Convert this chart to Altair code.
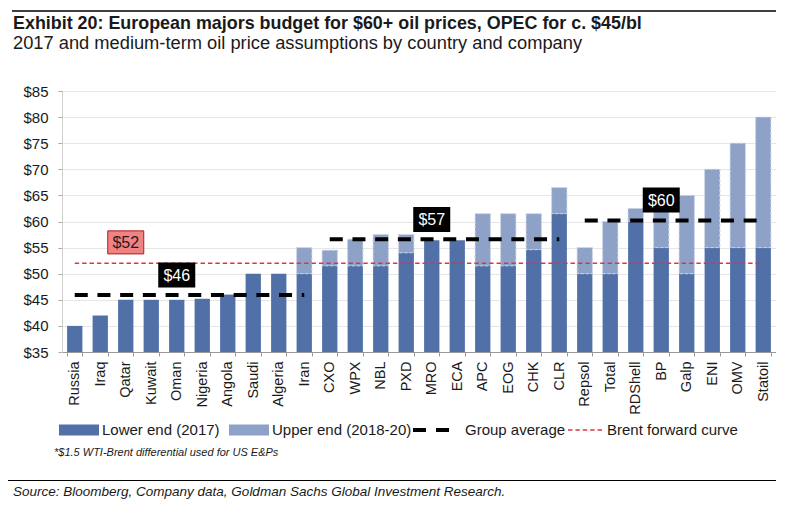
import altair as alt
import pandas as pd

# ---------------- data ----------------
categories = ["Russia", "Iraq", "Qatar", "Kuwait", "Oman", "Nigeria", "Angola", "Saudi",
              "Algeria", "Iran", "CXO", "WPX", "NBL", "PXD", "MRO", "ECA", "APC", "EOG",
              "CHK", "CLR", "Repsol", "Total", "RDShell", "BP", "Galp", "ENI", "OMV", "Statoil"]
lower_2017 = [40, 42, 45, 45, 45, 45.2, 46, 50, 50, 50, 51.5, 51.5, 51.5, 54, 56.4, 56.4,
              51.5, 51.5, 54.6, 61.5, 50, 50, 60, 55, 50, 55, 55, 55]
upper_2018_20 = [40, 42, 45, 45, 45, 45.2, 46, 50, 50, 55, 54.5, 56.6, 57.5, 57.5, 56.4, 56.4,
                 61.5, 61.5, 61.5, 66.5, 55, 60, 62.5, 62.5, 65, 70, 75, 80]

group_first = ["Russia", "CXO", "Repsol"]
group_last = ["Iran", "CLR", "Statoil"]
group_avg = [45.9, 56.6, 60.2]
group_label_text = ["$46", "$57", "$60"]
group_label_cat = ["Oman", "MRO", "BP"]
group_label_y = [49.75, 60.4, 64.1]

brent_first = ["Russia"]
brent_last = ["Statoil"]
brent_value = [52]
brent_label_text = ["$52"]
brent_label_cat = ["Qatar"]
brent_label_y = [56.0]

y_ticks = [35, 40, 45, 50, 55, 60, 65, 70, 75, 80, 85]

LOW = "Lower end (2017)"
UP = "Upper end (2018-20)"
GA = "Group average"
BR = "Brent forward curve"

title_text = "Exhibit 20: European majors budget for $60+ oil prices, OPEC for c. $45/bl"
subtitle_text = "2017 and medium-term oil price assumptions by country and company"
footnote_text = "*$1.5 WTI-Brent differential used for US E&Ps"
source_text = "Source: Bloomberg, Company data, Goldman Sachs Global Investment Research."

# ---------------- tables ----------------
rows = []
for c, lo, hi in zip(categories, lower_2017, upper_2018_20):
    rows.append({"cat": c, "series": LOW, "y0": y_ticks[0], "y1": lo})
    if hi > lo:
        rows.append({"cat": c, "series": UP, "y0": lo, "y1": hi})
bars_df = pd.DataFrame(rows)

groups_df = pd.DataFrame({"first": group_first, "last": group_last, "v": group_avg, "name": [GA] * 3})
glabels_df = pd.DataFrame({"cat": group_label_cat, "y": group_label_y, "t": group_label_text})
brent_df = pd.DataFrame({"first": brent_first, "last": brent_last, "v": brent_value, "name": [BR]})
blabel_df = pd.DataFrame({"cat": brent_label_cat, "y": brent_label_y, "t": brent_label_text})

FONT = "Liberation Sans"
C_LOW = "#5270a8"
C_UP = "#8ea2c8"
C_RED = "#d9363e"
TXT = "#1a1a1a"

x_scale = alt.Scale(domain=categories, paddingInner=0.4, paddingOuter=0.2)
y_scale = alt.Scale(domain=[35, 85], nice=False, zero=False)

x_axis = alt.Axis(labelAngle=-90, labelFont=FONT, labelFontSize=14.5, labelColor=TXT,
                  labelPadding=5, tickBand="extent", tickSize=4, tickColor="#999999",
                  domainColor="#999999", grid=False, title=None)
y_axis = alt.Axis(values=y_ticks, labelExpr="'$' + datum.value", labelFont=FONT,
                  labelFontSize=15, labelColor=TXT, labelPadding=10, tickSize=4,
                  tickColor="#aaaaaa", domainColor="#cfcfcf", gridColor="#e6e6e6",
                  title=None)


def X(field):
    return alt.X(field, scale=x_scale, axis=x_axis, title=None)


def Y(field):
    return alt.Y(field, scale=y_scale, axis=y_axis, title=None)


legend_common = dict(orient="none", direction="horizontal", title=None, padding=0,
                     labelFont=FONT, labelFontSize=15, labelColor=TXT)

# ---------------- bars ----------------
bars = alt.Chart(bars_df).mark_bar().encode(
    x=X("cat:N"),
    y=Y("y1:Q"),
    y2="y0:Q",
    fill=alt.Fill("series:N", scale=alt.Scale(domain=[LOW, UP], range=[C_LOW, C_UP]),
                  legend=alt.Legend(legendX=-3, legendY=319, symbolType="M-1,-0.28H1V0.28H-1Z",
                                    symbolSize=1600, symbolStrokeWidth=0, labelOffset=3,
                                    columnPadding=9, **legend_common)),
)

upper_outline = alt.Chart(bars_df).transform_filter(
    alt.datum.series == UP
).mark_bar(filled=False, stroke="#c9d3e6", strokeWidth=1, strokeDash=[3, 2]).encode(
    x=X("cat:N"),
    y=Y("y1:Q"),
    y2="y0:Q",
)

# ---------------- Brent forward curve ----------------
brent = alt.Chart(brent_df).mark_rule(strokeWidth=1.5, strokeDash=[4.4, 3]).encode(
    x=X("first:N"),
    x2="last:N",
    y=Y("v:Q"),
    color=alt.Color("name:N", scale=alt.Scale(domain=[BR], range=[C_RED]),
                    legend=alt.Legend(legendX=505, legendY=319.5, symbolType="stroke",
                                      symbolSize=1369, symbolStrokeWidth=1.5,
                                      symbolDash=[4.4, 3], labelOffset=1, **legend_common)),
)

# ---------------- group averages ----------------
groups = alt.Chart(groups_df).mark_rule(strokeWidth=4, strokeDash=[13, 9.7]).encode(
    x=X("first:N"),
    x2="last:N",
    y=Y("v:Q"),
    stroke=alt.Stroke("name:N", scale=alt.Scale(domain=[GA], range=["#000000"]),
                      legend=alt.Legend(legendX=349, legendY=319, symbolType="stroke",
                                        symbolSize=1296, symbolStrokeWidth=4,
                                        symbolDash=[13, 10], labelOffset=14, **legend_common)),
)

# ---------------- value boxes ----------------
gbox = alt.Chart(glabels_df).mark_point(
    shape="M-1.48,-1H1.48V1H-1.48Z", size=625, filled=True, fill="#000000", opacity=1
).encode(x=X("cat:N"), y=Y("y:Q"))
gtext = alt.Chart(glabels_df).mark_text(
    font=FONT, fontSize=16, color="#ffffff", align="center", baseline="middle", dy=1
).encode(x=X("cat:N"), y=Y("y:Q"), text="t:N")

bbox = alt.Chart(blabel_df).mark_point(
    shape="M-1.5,-0.96H1.5V0.96H-1.5Z", size=576, filled=True, fill="#f08282",
    stroke="#a8201f", strokeWidth=1, opacity=1
).encode(x=X("cat:N"), y=Y("y:Q"))
btext = alt.Chart(blabel_df).mark_text(
    font=FONT, fontSize=16, color="#2a1a1a", align="center", baseline="middle", dy=1
).encode(x=X("cat:N"), y=Y("y:Q"), text="t:N")

# ---------------- texts and rules around the plot ----------------
def text_layer(t, x, y, **kw):
    return alt.Chart(pd.DataFrame({"t": [t]})).mark_text(
        align="left", baseline="alphabetic", font=FONT, color=TXT, **kw
    ).encode(x=alt.value(x), y=alt.value(y), text="t:N")

title_l = text_layer(title_text, -49, -62.5, fontSize=17.9, fontWeight="bold")
subtitle_l = text_layer(subtitle_text, -49, -41.7, fontSize=18.3)
foot_l = text_layer(footnote_text, -8, 365, fontSize=11, fontStyle="italic")
source_l = text_layer(source_text, -49, 405, fontSize=13.5, fontStyle="italic")

top_line = alt.Chart(pd.DataFrame({"k": [0]})).mark_rule(color="#000000", strokeWidth=1.3).encode(
    x=alt.value(-50), x2=alt.value(714), y=alt.value(-80))
sep_line = alt.Chart(pd.DataFrame({"k": [0]})).mark_rule(color="#000000", strokeWidth=1.2).encode(
    x=alt.value(-54), x2=alt.value(714), y=alt.value(389.5))

chart = alt.layer(
    bars, upper_outline, brent, groups, bbox, btext, gbox, gtext,
    title_l, subtitle_l, foot_l, source_l, top_line, sep_line
).properties(
    width=714, height=261,
    autosize=alt.AutoSizeParams(type="none"),
    padding={"left": 54, "top": 83, "right": 0, "bottom": 147},
).configure_view(stroke="transparent").configure(font=FONT, background="#ffffff")

chart.save("out.html", embed_options={"renderer": "svg", "actions": False})
